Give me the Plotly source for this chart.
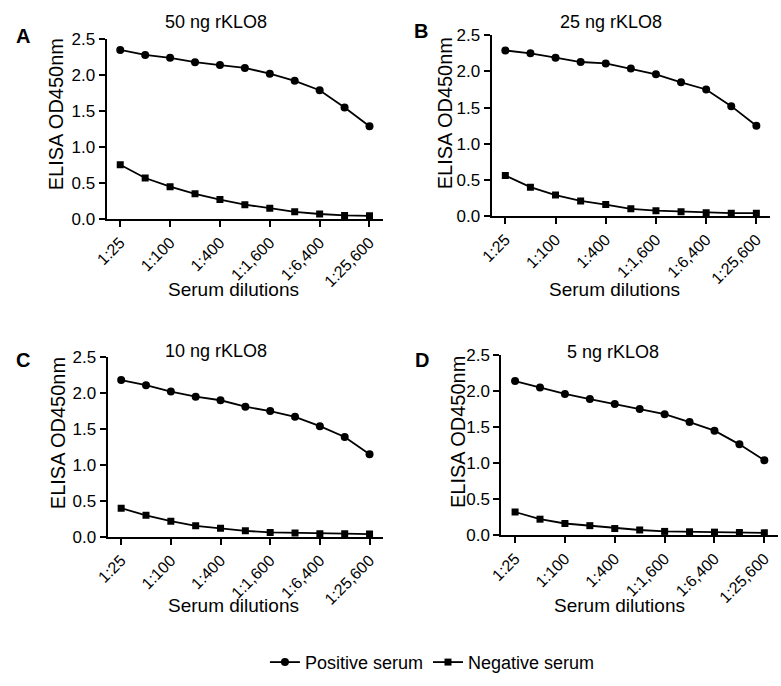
import plotly.graph_objects as go

W, H = 781, 686

dilutions = ["1:25", "1:50", "1:100", "1:200", "1:400", "1:800",
             "1:1,600", "1:3,200", "1:6,400", "1:12,800", "1:25,600"]
tick_labels = ["1:25", "1:100", "1:400", "1:1,600", "1:6,400", "1:25,600"]

panel_titles = ["50 ng rKLO8", "25 ng rKLO8", "10 ng rKLO8", "5 ng rKLO8"]
panel_letters = ["A", "B", "C", "D"]

pos_a = [2.35, 2.28, 2.24, 2.18, 2.14, 2.10, 2.02, 1.92, 1.79, 1.55, 1.29]
neg_a = [0.755, 0.57, 0.45, 0.35, 0.27, 0.20, 0.15, 0.10, 0.07, 0.05, 0.045]

pos_b = [2.29, 2.25, 2.19, 2.13, 2.11, 2.04, 1.96, 1.85, 1.75, 1.52, 1.25]
neg_b = [0.56, 0.40, 0.29, 0.21, 0.16, 0.10, 0.075, 0.06, 0.045, 0.04, 0.04]

pos_c = [2.18, 2.11, 2.02, 1.95, 1.90, 1.81, 1.75, 1.67, 1.54, 1.39, 1.15]
neg_c = [0.40, 0.30, 0.22, 0.155, 0.12, 0.085, 0.063, 0.054, 0.045, 0.045, 0.04]

pos_d = [2.14, 2.05, 1.96, 1.89, 1.82, 1.75, 1.68, 1.57, 1.45, 1.26, 1.04]
neg_d = [0.32, 0.22, 0.16, 0.13, 0.09, 0.07, 0.05, 0.045, 0.04, 0.035, 0.03]

positives = [pos_a, pos_b, pos_c, pos_d]
negatives = [neg_a, neg_b, neg_c, neg_d]

# pixel boxes (left, right, top, bottom) for each plot area
boxes = [(96, 377, 31, 216), (487, 770, 27, 213),
         (97, 377, 358, 543), (497, 778, 356, 541)]
title_pos = [(207, 13), (608, 13), (207, 352), (610, 353)]
letter_pos = [(11, 28), (415, 23), (11, 361), (416, 361)]
ytitle_pos = [(45, 108), (440, 107), (47, 436), (453, 435)]
xtitle_pos = [(225, 288), (612, 288), (225, 614), (617, 614)]

FONT = "Liberation Sans, Arial, sans-serif"

def px(x):
    return x / W

def py(y):
    return (H - y) / H

fig = go.Figure()
annotations = []
for i in range(4):
    ax = "" if i == 0 else str(i + 1)
    xa, ya = "x" + ax, "y" + ax
    show = i == 0
    fig.add_trace(go.Scatter(
        x=dilutions, y=positives[i], xaxis=xa, yaxis=ya, mode="lines+markers",
        name="Positive serum", legendgroup="pos", showlegend=show,
        line=dict(color="black", width=1.8),
        marker=dict(symbol="circle", size=8, color="black")))
    fig.add_trace(go.Scatter(
        x=dilutions, y=negatives[i], xaxis=xa, yaxis=ya, mode="lines+markers",
        name="Negative serum", legendgroup="neg", showlegend=show,
        line=dict(color="black", width=1.8),
        marker=dict(symbol="square", size=7, color="black")))
    l, r, t, b = boxes[i]
    fig.update_layout(**{
        "xaxis" + ax: dict(
            domain=[px(l), px(r)], anchor=ya, type="category",
            range=[-0.55, 10.55], tickmode="array", tickvals=tick_labels,
            ticktext=tick_labels, tickangle=-45, ticks="outside", ticklen=6,
            tickwidth=2, tickcolor="black", showline=True, linewidth=2,
            linecolor="black", showgrid=False, zeroline=False,
            tickfont=dict(size=16, color="black", family=FONT)),
        "yaxis" + ax: dict(
            domain=[py(b), py(t)], anchor=xa, range=[0, 2.5],
            tickvals=[0, 0.5, 1.0, 1.5, 2.0, 2.5], tickformat=".1f",
            ticks="outside", ticklen=6, tickwidth=2, tickcolor="black",
            showline=True, linewidth=2, linecolor="black", showgrid=False,
            zeroline=False,
            tickfont=dict(size=17, color="black", family=FONT)),
    })
    annotations.append(dict(text=panel_titles[i], x=px(title_pos[i][0]),
                            y=py(title_pos[i][1]), xref="paper", yref="paper",
                            showarrow=False, xanchor="center", yanchor="middle",
                            font=dict(size=18, color="black", family=FONT)))
    annotations.append(dict(text="<b>" + panel_letters[i] + "</b>",
                            x=px(letter_pos[i][0]), y=py(letter_pos[i][1]),
                            xref="paper", yref="paper", showarrow=False,
                            xanchor="center", yanchor="middle",
                            font=dict(size=20, color="black", family=FONT)))
    annotations.append(dict(text="ELISA OD450nm", x=px(ytitle_pos[i][0]),
                            y=py(ytitle_pos[i][1]), xref="paper", yref="paper",
                            showarrow=False, xanchor="center", yanchor="middle",
                            textangle=-90,
                            font=dict(size=20, color="black", family=FONT)))
    annotations.append(dict(text="Serum dilutions", x=px(xtitle_pos[i][0]),
                            y=py(xtitle_pos[i][1]), xref="paper", yref="paper",
                            showarrow=False, xanchor="center", yanchor="middle",
                            font=dict(size=19, color="black", family=FONT)))

fig.update_layout(
    width=W, height=H, margin=dict(l=0, r=0, t=0, b=0),
    paper_bgcolor="white", plot_bgcolor="white",
    font=dict(family=FONT, color="black"),
    annotations=annotations,
    legend=dict(orientation="h", x=px(427), y=py(672), xanchor="center",
                yanchor="middle", font=dict(size=18, color="black", family=FONT),
                itemwidth=30, tracegroupgap=0, bgcolor="rgba(0,0,0,0)"),
)

fig.write_html("out.html",
               config={"displayModeBar": False},
               post_script="document.body.style.margin='0px';"
                           "document.body.style.padding='0px';"
                           "document.body.style.overflow='hidden';")
